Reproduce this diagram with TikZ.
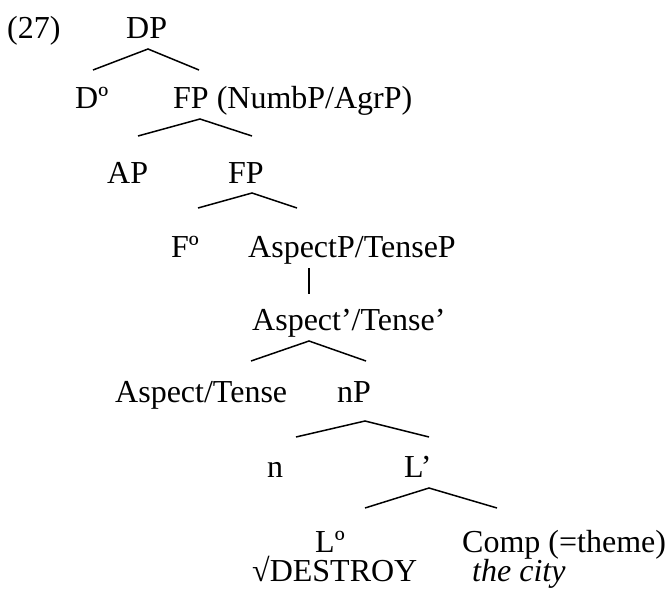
\documentclass[tikz,border=0pt]{standalone}
\usepackage{fontspec}
\setmainfont{Liberation Serif}
\newcommand{\treebranch}[4]{
    \coordinate (#1-a) at (#2);
    \coordinate (#1-l) at (#3);
    \coordinate (#1-r) at (#4);
    \draw[branch] (#1-l)--(#1-a)--(#1-r);
}
\tikzset{
  lab/.style={anchor=base west, inner sep=0pt, font=\fontsize{32}{36}\selectfont},
  branch/.style={line width=1.5pt, line join=miter}
}
\begin{document}
\begin{tikzpicture}[x=1pt,y=-1pt]
\useasboundingbox (0,0) rectangle (670,589);
% labels, row by row
\node[lab] (ex) at (7,38) {(27)};
\node[lab] (dp) at (126,38) {DP};
\node[lab] (d0) at (75,108) {Dº};
\node[lab] (fp1) at (173,108) {FP (NumbP/AgrP)};
\node[lab] (ap) at (107,183) {AP};
\node[lab] (fp2) at (228,183) {FP};
\node[lab] (f0) at (171,257) {Fº};
\node[lab] (aspp) at (248,257) {AspectP/TenseP};
\node[lab] (aspbar) at (252,330) {Aspect’/Tense’};
\node[lab] (asp) at (115,402) {Aspect/Tense};
\node[lab] (np) at (337,402) {nP};
\node[lab] (nhead) at (267,477) {n};
\node[lab] (lbar) at (404,477) {L’};
\node[lab] (l0) at (315,552) {Lº};
\node[lab] (comp) at (462,552) {Comp (=theme)};
\node[lab] (root) at (252,581) {√DESTROY};
\node[lab] (city) at (472,581) {\itshape the city};
% branches
\treebranch{dp}{148,49}{93,70}{199,70}
\treebranch{fp1}{200,119}{138,136}{252,136}
\treebranch{fp2}{252,193}{198,208}{297,208}
\coordinate (aspp-a) at (309,268);
\coordinate (aspp-b) at (309,294);
\draw[branch] (aspp-a)--(aspp-b);
\treebranch{aspbar}{309,341}{251,361}{366,361}
\treebranch{np}{365,421}{296,437}{429,437}
\treebranch{lbar}{429,488}{365,508}{497,508}
\end{tikzpicture}
\end{document}
